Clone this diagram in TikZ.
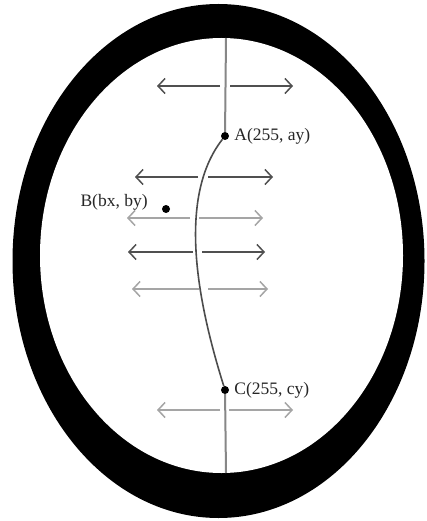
\documentclass[tikz,border=0pt]{standalone}
\usepackage{fontspec}
\setmainfont{Liberation Serif}
\usetikzlibrary{arrows.meta,positioning}
\definecolor{ArrDk}{RGB}{80,80,80}
\definecolor{ArrLt}{RGB}{165,165,165}
\definecolor{MidC}{RGB}{135,135,135}
\tikzset{
  dot/.style={circle,fill=black,minimum size=8pt,inner sep=0pt},
  lbl/.style={font=\fontsize{17.5}{19}\selectfont,inner sep=0pt,text=black!85},
  push/.style={-{Straight Barb[length=7pt,width=15pt,line width=1.5pt]},line width=2pt},
  midline/.style={MidC,line width=2pt},
  spine/.style={black!70,line width=1.6pt},
}
\begin{document}
\begin{tikzpicture}[x=1pt,y=-1pt]
  \fill[white] (0,0) rectangle (427,521);
  % ring
  \fill[black] (218.5,261) ellipse [x radius=206pt,y radius=257pt];
  \fill[white] (221.5,255.5) ellipse [x radius=181.5pt,y radius=217.5pt];
  \coordinate (top) at (226,38);
  \coordinate (bot) at (226,473);
  \node[dot] (A) at (225,136) {};
  \node[dot] (C) at (225,390) {};
  \node[dot] (B) at (166,209) {};
  \draw[midline] (top) -- (A);
  \draw[midline] (C) -- (bot);
  \draw[spine] (A) .. controls (175,200) and (200,310) .. (C);
  \node[lbl,right=5pt of A] (Alab) {A(255, ay)};
  \node[lbl,right=5pt of C] (Clab) {C(255, cy)};
  \node[lbl,left=14pt of B,yshift=7pt] (Blab) {B(bx, by)};
  % arrows
  \foreach \n/\y/\xl/\gl/\gr/\xr/\c in {1/86/157/220/230/293/ArrDk,
      2/177/135/198/208/273/ArrDk, 3/218/127/190/199/263/ArrLt,
      4/252/128/193/202/265/ArrDk, 5/289/132/199/208/268/ArrLt,
      6/410/157/220/229/293/ArrLt}{
    \coordinate (l\n) at (\xl,\y);
    \coordinate (ml\n) at (\gl,\y);
    \coordinate (mr\n) at (\gr,\y);
    \coordinate (r\n) at (\xr,\y);
    \draw[push,\c] (ml\n) -- (l\n);
    \draw[push,\c] (mr\n) -- (r\n);
  }
\end{tikzpicture}
\end{document}
